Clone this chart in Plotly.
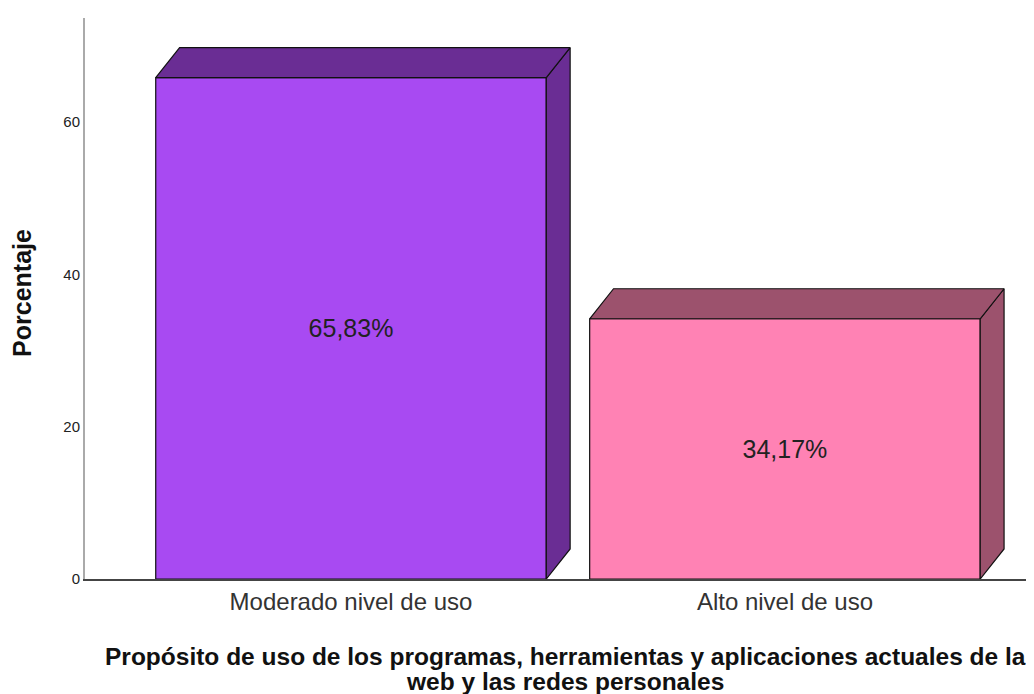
import plotly.graph_objects as go

categories = ["Moderado nivel de uso", "Alto nivel de uso"]
values = [65.83, 34.17]
front_colors = ["#A84AF2", "#FF82B4"]
side_colors = ["#6A2D94", "#9C526D"]
y_ticks = [0, 20, 40, 60]
x_title_lines = ["Propósito de uso de los programas, herramientas y aplicaciones actuales de la",
                 "web y las redes personales"]
y_title = "Porcentaje"

positions = list(range(len(categories)))
bar_width = 0.9
dx = 0.055   # depth offset (x units)
dy = 3.94    # depth offset (y units)

FONT = "Liberation Sans, Arial"
PLOT_H = 561.0
PLOT_W = 957.0

fig = go.Figure()

for i, (p, v) in enumerate(zip(positions, values)):
    x0 = p - bar_width / 2
    x1 = p + bar_width / 2
    fig.add_trace(go.Scatter(
        x=[x1, x1 + dx, x1 + dx, x1, x1],
        y=[0, dy, v + dy, v, 0],
        fill="toself", fillcolor=side_colors[i], mode="lines",
        line=dict(color="#111111", width=1.2), hoverinfo="skip", showlegend=False))
    fig.add_trace(go.Scatter(
        x=[x0, x0 + dx, x1 + dx, x1, x0],
        y=[v, v + dy, v + dy, v, v],
        fill="toself", fillcolor=side_colors[i], mode="lines",
        line=dict(color="#111111", width=1.2), hoverinfo="skip", showlegend=False))

fig.add_trace(go.Bar(
    x=positions, y=values, width=bar_width,
    marker=dict(color=front_colors, line=dict(color="#111111", width=1.2)),
    texttemplate="%{y:.2f}%", textposition="inside", insidetextanchor="middle",
    textfont=dict(family=FONT, size=25, color="#222222"),
    constraintext="none", showlegend=False))

annotations = [
    dict(text="<b>%s</b>" % x_title_lines[0], xref="paper", yref="paper",
         x=(557 - 77) / PLOT_W, y=-77 / PLOT_H, xanchor="center", yanchor="middle", showarrow=False,
         font=dict(family=FONT, size=24.5, color="#111111")),
    dict(text="<b>%s</b>" % x_title_lines[1], xref="paper", yref="paper",
         x=(557 - 77) / PLOT_W, y=-102 / PLOT_H, xanchor="center", yanchor="middle", showarrow=False,
         font=dict(family=FONT, size=24.5, color="#111111")),
    dict(text="<b>%s</b>" % y_title, xref="paper", yref="paper",
         x=-63 / PLOT_W, y=0.51, xanchor="center", yanchor="middle", showarrow=False,
         textangle=-90, font=dict(family=FONT, size=25, color="#111111")),
]

fig.update_layout(
    width=1034, height=686,
    margin=dict(l=77, r=0, t=10, b=115),
    paper_bgcolor="white", plot_bgcolor="white",
    separators=",.",
    font=dict(family=FONT, color="#222222"),
    annotations=annotations,
    xaxis=dict(
        range=[-0.613, 1.5924], tickvals=positions, ticktext=categories,
        tickfont=dict(size=24, color="#333333"),
        showline=True, linecolor="#444444", linewidth=1.5,
        showgrid=False, zeroline=False, ticks="",
    ),
    yaxis=dict(
        range=[0, 73.66], tickvals=y_ticks,
        tickfont=dict(size=15, color="#222222"),
        showline=True, linecolor="#aaaaaa", linewidth=2,
        showgrid=False, zeroline=False, ticks="",
    ),
)

fig.write_html("out.html")
